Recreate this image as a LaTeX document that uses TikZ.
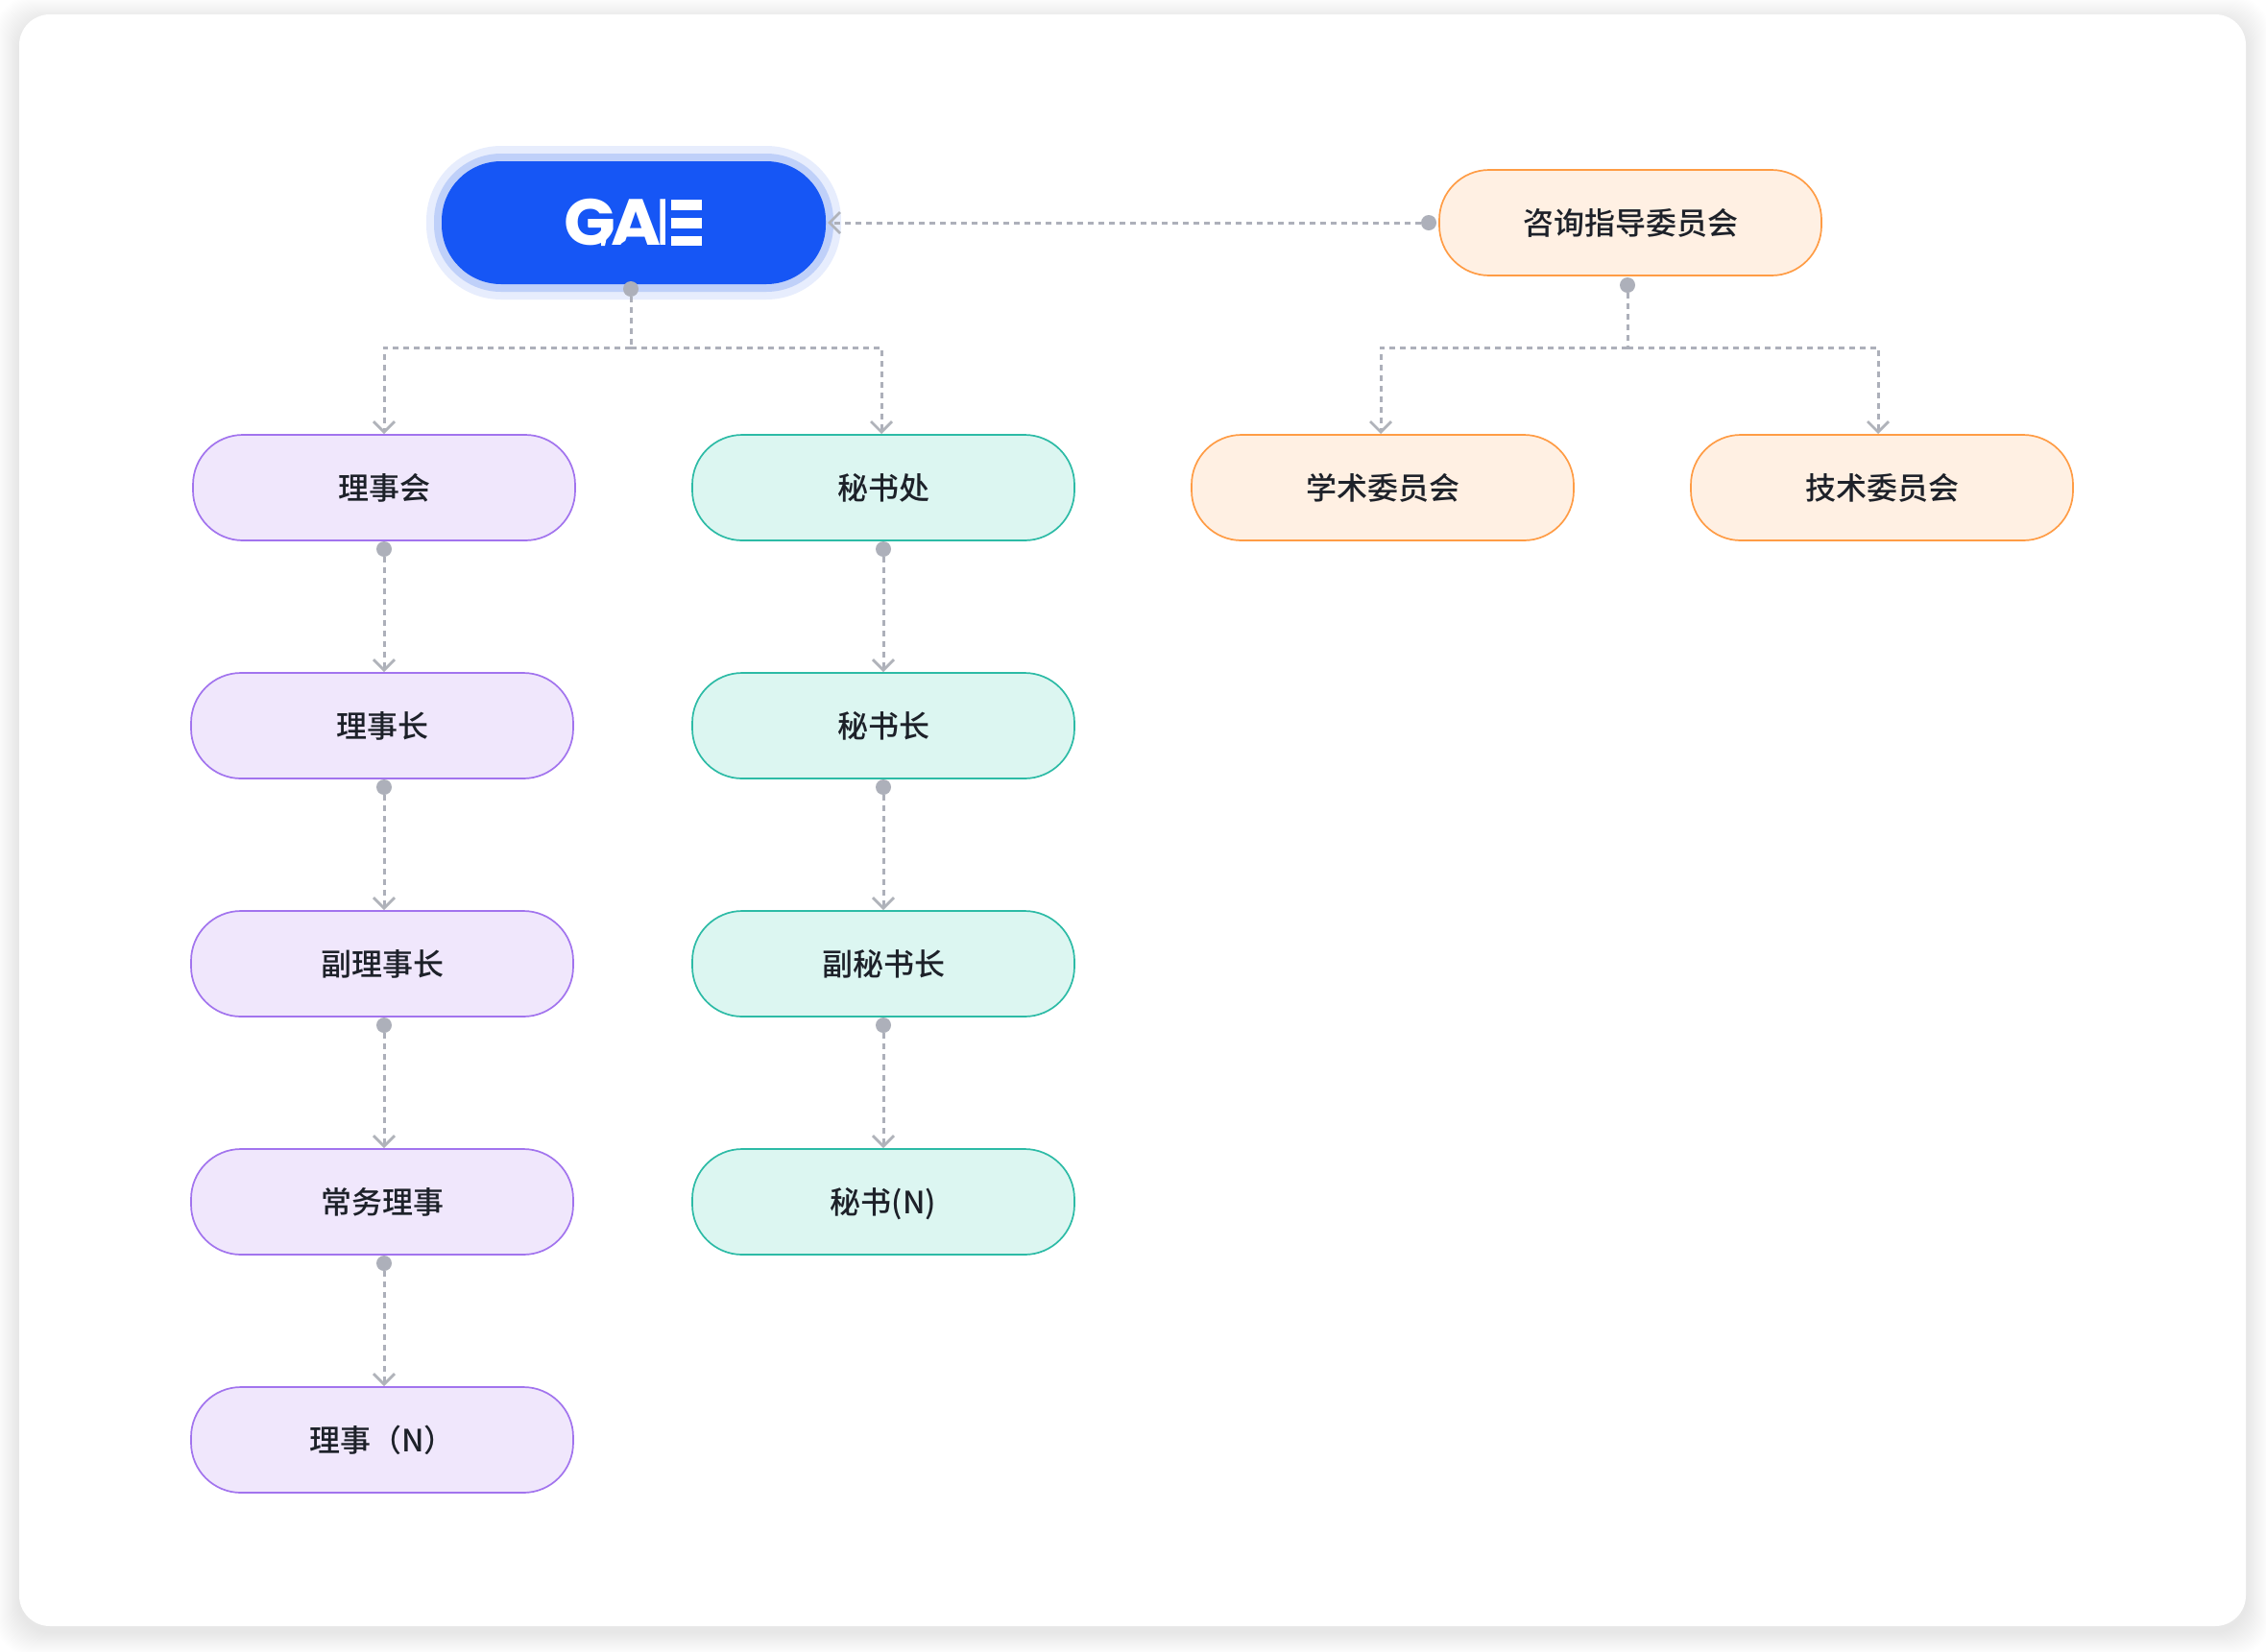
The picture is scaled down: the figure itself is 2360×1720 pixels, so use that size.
\documentclass[tikz,border=0pt]{standalone}
\usepackage{fontspec}
\usetikzlibrary{arrows.meta,positioning}
\newfontfamily\cjk{Noto Sans CJK SC Medium}
\newfontfamily\logofont[LetterSpace=-7,FakeStretch=1.04]{Poppins}
\definecolor{linegrey}{HTML}{ADB0BA}
\definecolor{tipgrey}{HTML}{B0B3BA}
\definecolor{inkc}{HTML}{1D2129}
\definecolor{gblue}{HTML}{1656F5}
\definecolor{gring}{HTML}{BFD0F9}
\definecolor{gouter}{HTML}{E7EDFD}
\definecolor{HTMLpurple}{HTML}{A274EE}
\definecolor{HTMLpurplef}{HTML}{F0E7FC}
\definecolor{HTMLgreen}{HTML}{2DBBA6}
\definecolor{HTMLgreenf}{HTML}{DCF6F1}
\definecolor{HTMLorange}{HTML}{FF9C45}
\definecolor{HTMLorangef}{HTML}{FFF0E3}
\tikzset{
  x=0.5pt,y=-0.5pt,
  pill/.style={rectangle,rounded corners=26pt,minimum width=199pt,minimum height=55pt,inner sep=0pt,outer sep=0pt,line width=0.85pt,font=\cjk\fontsize{16}{18}\selectfont,text=inkc,text height=14pt,text depth=2pt},
  purple/.style={pill,draw=HTMLpurple,fill=HTMLpurplef},
  green/.style={pill,draw=HTMLgreen,fill=HTMLgreenf},
  orange/.style={pill,draw=HTMLorange,fill=HTMLorangef},
  dotn/.style={circle,fill=linegrey,minimum size=8pt,inner sep=0pt,outer sep=0pt},
  conn/.style={draw=linegrey,line width=1.5pt,dash pattern=on 3pt off 2.5pt},
  arrowed/.style={conn,-{Straight Barb[length=5.5pt,width=11pt,line width=1.4pt,color=tipgrey]}},
}
\begin{document}
\begin{tikzpicture}
\useasboundingbox (0,0) rectangle (2360,1720);
\fill[white] (0,0) rectangle (2360,1720);
% card shadow
\foreach \i in {1,...,24}{
  \fill[black,opacity=0.002,rounded corners=17pt] (20-\i,15-\i+6) rectangle (2339+\i,1694+\i+6);
}
\fill[white,rounded corners=16pt] (20,15) rectangle (2339,1694);
% GAIE
\node[rectangle,rounded corners=39pt,minimum width=216pt,minimum height=80pt,fill=gouter,outer sep=0pt] (gouterp) at (660,232) {};
\node[rectangle,rounded corners=35pt,minimum width=208pt,minimum height=72pt,fill=gring,outer sep=0pt] (gringp) at (660,232) {};
\node[rectangle,rounded corners=31pt,minimum width=200pt,minimum height=64pt,fill=gblue,outer sep=0pt] (gaie) at (660,232) {};
\node[text=white,inner sep=0pt,anchor=west,font=\logofont\bfseries\fontsize{34}{36}\selectfont] (logo) at (587,232) {GAIE};
\fill[gblue] (692.5,200) rectangle (770,264);
\foreach \a/\b in {208/218.5,227/237.5,245.5/256}{\fill[white] (699,\a) rectangle (731,\b);}
\fill[white] (615,228) -- (636,228) -- (630,256) -- (626,256) -- (626,237) -- (613,237) -- cycle;
\fill[gblue] (645,257) .. controls (649,247) and (669,247) .. (673,257) -- cycle;
% purple
\node[purple,minimum width=199pt] (p1) at (400,508) {理事会};
\node[purple] (p2) at (398,756) {理事长};
\node[purple] (p3) at (398,1004) {副理事长};
\node[purple] (p4) at (398,1252) {常务理事};
\node[purple] (p5) at (398,1500) {理事（N）};
% green
\node[green] (g1) at (920,508) {秘书处};
\node[green] (g2) at (920,756) {秘书长};
\node[green] (g3) at (920,1004) {副秘书长};
\node[green] (g4) at (920,1252) {秘书(N)};
% orange
\node[orange] (o0) at (1698,232) {咨询指导委员会};
\node[orange] (o1) at (1440,508) {学术委员会};
\node[orange] (o2) at (1960,508) {技术委员会};
% dots
\node[dotn] (dg) at (657,301) {};
\node[dotn] (do0) at (1488,232) {};
\node[dotn] (do1) at (1695,297) {};
\foreach \n/\y in {1/572,2/820,3/1068,4/1316}{\node[dotn] (dp\n) at (400,\y) {};}
\foreach \n/\y in {1/572,2/820,3/1068}{\node[dotn] (dg\n) at (920,\y) {};}
% junctions and free ends
\coordinate (jg) at (657,362);
\coordinate (ta) at (400,452);
\coordinate (tb) at (918,452);
\coordinate (jo) at (1695,362);
\coordinate (tc) at (1438,452);
\coordinate (td) at (1956,452);
\coordinate (te) at (862,232);
% connectors
\draw[conn] (dg) -- (jg);
\draw[arrowed] (jg) -| (ta);
\draw[arrowed] (jg) -| (tb);
\draw[conn] (do1) -- (jo);
\draw[arrowed] (jo) -| (tc);
\draw[arrowed] (jo) -| (td);
\draw[arrowed] (do0) -- (te);
\foreach \n/\y in {1/700,2/948,3/1196,4/1444}{\coordinate (pe\n) at (400,\y); \draw[arrowed] (dp\n) -- (pe\n);}
\foreach \n/\y in {1/700,2/948,3/1196}{\coordinate (ge\n) at (920,\y); \draw[arrowed] (dg\n) -- (ge\n);}
\end{tikzpicture}
\end{document}
